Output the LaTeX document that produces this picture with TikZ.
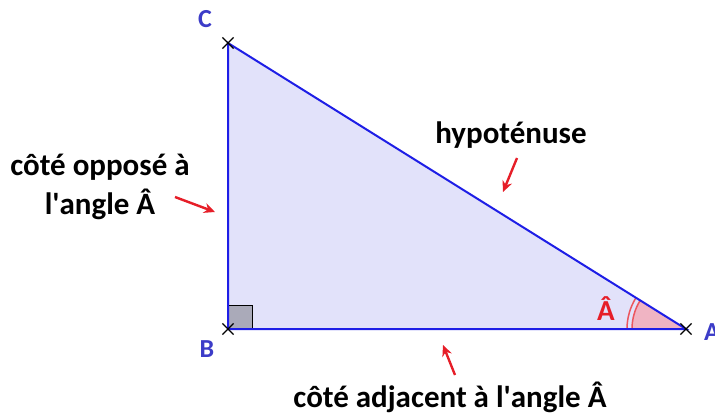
\documentclass[tikz,border=0pt]{standalone}
\usepackage{fontspec}
\setmainfont{Carlito}
\usetikzlibrary{shapes.misc, arrows.meta}
\definecolor{triblue}{RGB}{30,30,230}
\definecolor{trifill}{RGB}{226,226,250}
\definecolor{ptblue}{RGB}{60,60,200}
\definecolor{arrowred}{RGB}{230,30,40}
\definecolor{anglepink}{RGB}{240,180,195}
\definecolor{sqgray}{RGB}{170,170,185}

\begin{document}
\begin{tikzpicture}[x=1pt, y=1pt,
                    vertex/.style={cross out, draw=black, line width=1.2pt, minimum size=10pt, inner sep=0pt},
                    point/.style={font=\fontsize{26}{30}\selectfont\bfseries, text=ptblue, anchor=base, inner sep=0pt},
                    callout/.style={font=\fontsize{31}{39}\selectfont\bfseries, align=center, anchor=base, inner sep=0pt},
                    pointer/.style={-{Stealth[length=11pt, width=10pt]}, line width=2.4pt, draw=arrowred}
                ]
                    \useasboundingbox (0,0) rectangle (715,416);
                    \coordinate (C) at (228,373);
                    \coordinate (B) at (228,87);
                    \coordinate (A) at (686,87);

                    \fill[trifill] (B) -- (A) -- (C) -- cycle;
                    \filldraw[fill=sqgray, draw=black, line width=0.8pt] (B) rectangle ++(24,24);
                    \fill[anglepink] (A) -- ++(180:54) arc[start angle=180, end angle=148, radius=54] -- cycle;
                    \draw[arrowred!75, line width=1.5pt] (A) ++(180:54) arc[start angle=180, end angle=148, radius=54];
                    \draw[arrowred!75, line width=1.5pt] (A) ++(180:59) arc[start angle=180, end angle=148, radius=59];
                    \draw[triblue, line width=2pt] (B) -- (A) -- (C) -- cycle;

                    \node[vertex] (crossA) at (A) {};
                    \node[vertex] (crossB) at (B) {};
                    \node[vertex] (crossC) at (C) {};

                    \node[point] (labC) at (205,388) {C};
                    \node[point] (labB) at (207,59) {B};
                    \node[point, anchor=base west] (labA) at (704,76) {A};
                    \node[point, text=arrowred, font=\fontsize{29}{32}\selectfont\bfseries] (hatA) at (606,96) {Â};

                    \node[callout] (hyp) at (511,273) {hypoténuse};
                    \node[callout] (opp) at (100,202) {côté opposé à\\l\textquotesingle angle Â};
                    \node[callout] (adj) at (450,9) {côté adjacent à l\textquotesingle angle Â};

                    \coordinate (hypTail) at (517,258);
                    \coordinate (hypHead) at (503,224);
                    \coordinate (oppTail) at (175,219);
                    \coordinate (oppHead) at (215,204);
                    \coordinate (adjTail) at (455,41);
                    \coordinate (adjHead) at (443,71);
                    \draw[pointer] (hypTail) -- (hypHead);
                    \draw[pointer] (oppTail) -- (oppHead);
                    \draw[pointer] (adjTail) -- (adjHead);

                \end{tikzpicture}
\end{document}
